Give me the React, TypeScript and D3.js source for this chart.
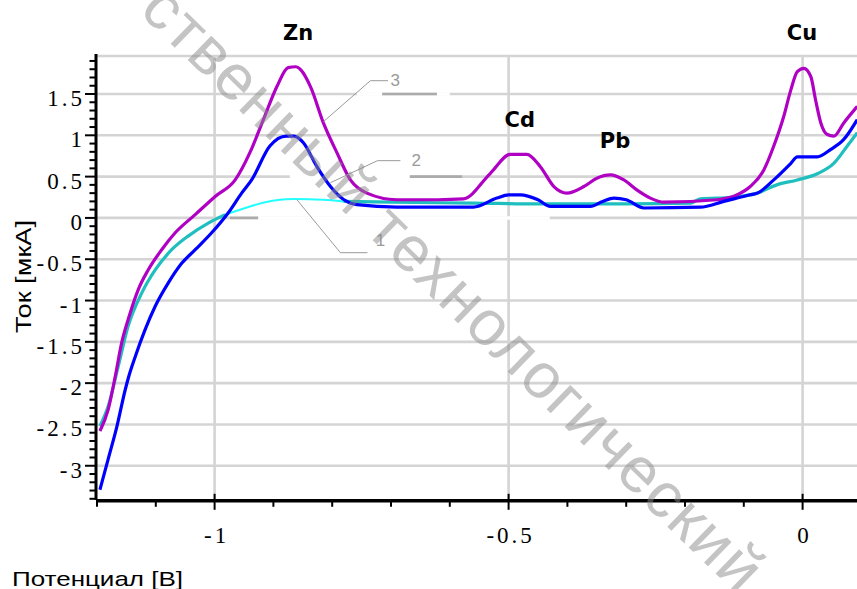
import React from 'react';
import * as d3 from 'd3';

const W = 857;
const H = 589;

// Curve 3 (magenta): potential [V], current [µA]
const curve3: [number, number][] = [
  [-1.195, -2.58], [-1.181, -2.32], [-1.169, -1.92], [-1.158, -1.51], [-1.147, -1.23],
  [-1.13, -0.87], [-1.113, -0.63], [-1.09, -0.385], [-1.067, -0.18], [-1.033, 0.04],
  [-0.999, 0.26], [-0.965, 0.46], [-0.94, 0.79], [-0.917, 1.19], [-0.894, 1.59],
  [-0.875, 1.82], [-0.862, 1.83], [-0.837, 1.59], [-0.815, 1.15], [-0.792, 0.79],
  [-0.769, 0.46], [-0.741, 0.3], [-0.69, 0.22], [-0.62, 0.22], [-0.577, 0.23],
  [-0.531, 0.54], [-0.497, 0.77], [-0.469, 0.77], [-0.446, 0.62], [-0.423, 0.38],
  [-0.401, 0.3], [-0.372, 0.38], [-0.35, 0.48], [-0.327, 0.52], [-0.304, 0.46],
  [-0.282, 0.34], [-0.259, 0.24], [-0.236, 0.19], [-0.145, 0.22], [-0.111, 0.28],
  [-0.089, 0.38], [-0.066, 0.58], [-0.049, 0.87], [-0.032, 1.23], [-0.02, 1.55],
  [-0.009, 1.77], [0.002, 1.81], [0.014, 1.71], [0.022, 1.43], [0.031, 1.15],
  [0.042, 1.01], [0.053, 0.99], [0.07, 1.15], [0.093, 1.35],
];

// Curve 2 (blue)
const curve2: [number, number][] = [
  [-1.195, -3.29], [-1.181, -2.92], [-1.166, -2.52], [-1.152, -2.08], [-1.146, -1.92],
  [-1.135, -1.68], [-1.118, -1.35], [-1.101, -1.07], [-1.079, -0.79], [-1.056, -0.55],
  [-1.033, -0.385], [-1.005, -0.18], [-0.977, 0.06], [-0.954, 0.3], [-0.937, 0.46],
  [-0.906, 0.87], [-0.878, 0.99], [-0.865, 0.99], [-0.849, 0.91], [-0.826, 0.62],
  [-0.803, 0.38], [-0.78, 0.22], [-0.758, 0.16], [-0.69, 0.13], [-0.56, 0.13],
  [-0.52, 0.24], [-0.5, 0.28], [-0.48, 0.28], [-0.45, 0.22], [-0.429, 0.14],
  [-0.361, 0.14], [-0.34, 0.2], [-0.321, 0.24], [-0.3, 0.22], [-0.27, 0.12],
  [-0.174, 0.13], [-0.134, 0.2], [-0.089, 0.28], [-0.077, 0.3], [-0.049, 0.46],
  [-0.02, 0.66], [-0.009, 0.74], [0.025, 0.74], [0.048, 0.83], [0.07, 0.95], [0.093, 1.19],
];

// Curve 1 (teal), split where it is drawn thin and light
const curve1Start: [number, number][] = [
  [-1.195, -2.52], [-1.181, -2.28], [-1.164, -1.8], [-1.147, -1.31], [-1.124, -0.91],
  [-1.101, -0.63], [-1.073, -0.385], [-1.045, -0.22], [-1.01, -0.06], [-0.982, 0.04],
];
const curve1Light: [number, number][] = [
  [-0.982, 0.04], [-0.948, 0.12], [-0.914, 0.19], [-0.866, 0.23], [-0.815, 0.22], [-0.781, 0.2],
];
const curve1End: [number, number][] = [
  [-0.781, 0.2], [-0.7, 0.19], [-0.56, 0.18], [-0.45, 0.17], [-0.3, 0.17], [-0.19, 0.18],
  [-0.174, 0.23], [-0.12, 0.25], [-0.077, 0.3], [-0.044, 0.4], [-0.009, 0.46],
  [0.025, 0.535], [0.053, 0.66], [0.076, 0.87], [0.093, 1.03],
];

const yTickValues = [1.5, 1, 0.5, 0, -0.5, -1, -1.5, -2, -2.5, -3];
const yTickLabels = ['1.5', '1', '0.5', '0', '-0.5', '-1', '-1.5', '-2', '-2.5', '-3'];
const xTickValues = [-1, -0.5, 0];
const xTickLabels = ['-1', '-0.5', '0'];

const peakNames = ['Zn', 'Cd', 'Pb', 'Cu'];
const peakX = [-0.858, -0.481, -0.319, -0.001];
const peakY = [2.155, 1.104, 0.85, 2.155];

// curve number callouts: leader polyline (data units) + label
const calloutLabels = ['3', '2', '1'];
const calloutLines: [number, number][][] = [
  [[-0.815, 1.165], [-0.735, 1.661], [-0.705, 1.661]],
  [[-0.803, 0.426], [-0.723, 0.693], [-0.684, 0.693]],
  [[-0.86, 0.22], [-0.786, -0.421], [-0.74, -0.421]],
];
const calloutText: [number, number][] = [[-0.693, 1.6], [-0.657, 0.63], [-0.718, -0.34]];

// gridline patches left by the callouts: [level, from, to]
const gridGaps: [number, number, number][] = [
  [1.5, -0.758, -0.715], [1.5, -0.622, -0.6], [0.5, -0.872, -0.668], [0, -0.926, -0.43],
];
const gridDark: [number, number, number][] = [
  [1.5, -0.715, -0.622], [0.5, -0.668, -0.579], [0, -0.974, -0.926],
];

const x = d3.scaleLinear().domain([-1.2, 0]).range([97, 802.6]);
const y = d3.scaleLinear().domain([-3.4, 1.96]).range([498.8, 56]);

const line = d3
  .line<[number, number]>()
  .x((d) => x(d[0]))
  .y((d) => y(d[1]))
  .curve(d3.curveMonotoneX);
const poly = d3
  .line<[number, number]>()
  .x((d) => x(d[0]))
  .y((d) => y(d[1]));

const GRID = '#d4d4d4';

export default function App() {
  const xLeft = x(-1.2);
  const yTop = y(1.96);
  const yBot = y(-3.4);
  const minorY: number[] = [];
  for (let i = -34; i <= 19; i++) minorY.push(i / 10);
  const minorX: number[] = [];
  for (let i = -12; i <= 0; i++) minorX.push(i / 10);

  const tickFont = { fontFamily: '"Liberation Serif", "Times New Roman", serif', fontSize: 23, letterSpacing: 3 };

  return (
    <svg width={W} height={H} style={{ position: 'absolute', left: 0, top: 0, background: '#fff' }}>
      <rect x={0} y={0} width={W} height={H} fill="#fff" />
      {/* grid */}
      <line x1={xLeft} x2={W} y1={yTop} y2={yTop} stroke={GRID} strokeWidth={2.6} />
      {yTickValues.map((v) => (
        <line key={'gy' + v} x1={xLeft} x2={W} y1={y(v)} y2={y(v)} stroke={GRID} strokeWidth={2.6} />
      ))}
      {xTickValues.map((v) => (
        <line key={'gx' + v} x1={x(v)} x2={x(v)} y1={yTop} y2={yBot} stroke={GRID} strokeWidth={2.6} />
      ))}
      {gridGaps.map((g, i) => (
        <line key={'gg' + i} x1={x(g[1])} x2={x(g[2])} y1={y(g[0])} y2={y(g[0])} stroke="#fff" strokeWidth={3.5} />
      ))}
      {gridDark.map((g, i) => (
        <line key={'gd' + i} x1={x(g[1])} x2={x(g[2])} y1={y(g[0])} y2={y(g[0])} stroke="#ababab" strokeWidth={2.6} />
      ))}

      {/* curves */}
      <path d={line(curve1Start) || ''} fill="none" stroke="#1fbfbf" strokeWidth={3.2} />
      <path d={line(curve1End) || ''} fill="none" stroke="#1fbfbf" strokeWidth={3.2} />
      <path d={line(curve1Light) || ''} fill="none" stroke="#22ffff" strokeWidth={2} />
      <path d={line(curve3) || ''} fill="none" stroke="#b000c4" strokeWidth={3.2} />
      <path d={line(curve2) || ''} fill="none" stroke="#0000ff" strokeWidth={3.2} />

      {/* callouts */}
      {calloutLines.map((pts, i) => (
        <path key={'cl' + i} d={poly(pts) || ''} fill="none" stroke="#9a9a9a" strokeWidth={1} />
      ))}
      {calloutLabels.map((t, i) => (
        <text
          key={'ct' + i}
          x={x(calloutText[i][0])}
          y={y(calloutText[i][1])}
          textAnchor="middle"
          fill="#9a9a9a"
          style={{ fontFamily: '"Liberation Sans", Arial, sans-serif', fontSize: 17 }}
        >
          {t}
        </text>
      ))}

      {/* axes */}
      <line x1={96} x2={96} y1={yTop - 2} y2={yBot + 1} stroke="#000" strokeWidth={3} />
      <line x1={96} x2={W} y1={yBot + 2} y2={yBot + 2} stroke="#000" strokeWidth={3.5} />
      {minorY.map((v) => {
        const major = Math.abs(v * 2 - Math.round(v * 2)) < 1e-6;
        return (
          <line
            key={'ty' + v}
            x1={major ? 85 : 89.5}
            x2={96}
            y1={y(v)}
            y2={y(v)}
            stroke="#000"
            strokeWidth={2}
          />
        );
      })}
      {minorX.map((v) => {
        const major = Math.abs(v * 2 - Math.round(v * 2)) < 1e-6;
        return (
          <line
            key={'tx' + v}
            x1={x(v)}
            x2={x(v)}
            y1={major ? yBot - 5 : yBot + 2}
            y2={major ? yBot + 11 : yBot + 8}
            stroke="#000"
            strokeWidth={2}
          />
        );
      })}
      {yTickValues.map((v, i) => (
        <text key={'yl' + v} x={85} y={y(v) + 12} textAnchor="end" style={tickFont}>
          {yTickLabels[i]}
        </text>
      ))}
      {xTickValues.map((v, i) => (
        <text key={'xl' + v} x={x(v) + 2} y={543} textAnchor="middle" style={tickFont}>
          {xTickLabels[i]}
        </text>
      ))}

      {/* axis titles */}
      <text
        transform="translate(31,276.5) rotate(-90)"
        textAnchor="middle"
        textLength={113}
        lengthAdjust="spacingAndGlyphs"
        style={{ fontFamily: '"Liberation Sans Narrow", "Liberation Sans", Arial, sans-serif', fontSize: 22 }}
      >
        Ток [мкА]
      </text>
      <text
        x={12}
        y={586}
        textLength={171}
        lengthAdjust="spacingAndGlyphs"
        style={{ fontFamily: '"Liberation Sans Narrow", "Liberation Sans", Arial, sans-serif', fontSize: 21 }}
      >
        Потенциал [B]
      </text>

      {/* peak labels */}
      {peakNames.map((t, i) => (
        <text
          key={'pk' + t}
          x={x(peakX[i])}
          y={y(peakY[i])}
          textAnchor="middle"
          style={{ fontFamily: '"DejaVu Sans", Verdana, sans-serif', fontWeight: 'bold', fontSize: 21 }}
        >
          {t}
        </text>
      ))}

      {/* watermark */}
      <text
        transform="translate(138,12) rotate(44.2)"
        textLength={837}
        lengthAdjust="spacing"
        fill="#8a8a8a"
        fillOpacity={0.5}
        style={{ fontFamily: '"Liberation Sans", Arial, sans-serif', fontSize: 64 }}
      >
        ственный технологический
      </text>
    </svg>
  );
}
